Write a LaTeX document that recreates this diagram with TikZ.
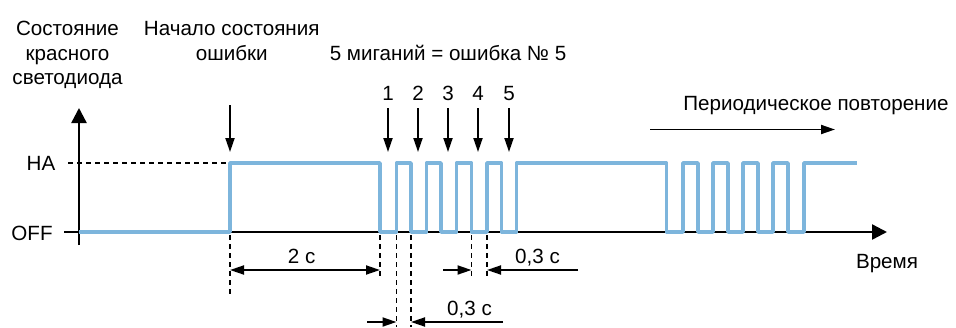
\documentclass[tikz,border=0pt]{standalone}
\usepackage{fontspec}
\setmainfont{Liberation Sans}
\usetikzlibrary{arrows.meta}
\definecolor{sig}{HTML}{7DB5DC}
\begin{document}
\begin{tikzpicture}[x=1pt,y=-1pt,
  txt/.style={inner sep=0pt,anchor=base,font=\fontsize{20.6}{24}\selectfont},
  axis/.style={line width=2.4pt,black},
  bigtip/.style={-{Triangle[length=15pt,width=15pt]}},
  dimtip/.style={-{Triangle[length=14pt,width=9pt]}},
  guide/.style={line width=1.9pt,dash pattern=on 5pt off 4pt},
  marker/.style={line width=1.9pt,dimtip},
  signal/.style={line width=3.6pt,sig,line join=round}]
\useasboundingbox (0,0) rectangle (956,327);
% texts
\node[txt] (t1a) at (67.5,35) {Состояние};
\node[txt] (t1b) at (67.5,60) {красного};
\node[txt] (t1c) at (67.5,84) {светодиода};
\node[txt] (t2a) at (231.7,35) {Начало состояния};
\node[txt] (t2b) at (231.7,60) {ошибки};
\node[txt] (t3) at (448,60) {5 миганий = ошибка № 5};
\node[txt] (per) at (816,110) {Периодическое повторение};
\node[txt] (vr) at (887,268) {Время};
\node[txt] (ha) at (41,170.5) {НА};
\node[txt] (off) at (32,240) {OFF};
\node[txt] (d2) at (301.7,263.3) {2 с};
\node[txt] (d3a) at (537.5,263.3) {0,3 с};
\node[txt] (d3b) at (469.5,315) {0,3 с};
\foreach \n/\x in {1/388,2/418,3/448,4/478,5/509}{
  \node[txt] (n\n) at (\x,100) {\n};
  \coordinate (a\n) at (\x,108);
  \coordinate (b\n) at (\x,152);
  \draw[marker] (a\n) -- (b\n);
}
% axes
\coordinate (o) at (79,232);
\coordinate (ytop) at (79,108);
\coordinate (ybot) at (79,245);
\coordinate (xend) at (887,232);
\coordinate (offt) at (64,232);
\coordinate (hat) at (68,163);
\coordinate (hae) at (230,163);
\draw[axis,bigtip] (ybot) -- (ytop);
\draw[axis,bigtip] (offt) -- (xend);
\draw[guide] (hat) -- (hae);
% start arrow
\coordinate (s0) at (230,105);
\coordinate (s1) at (230,152);
\draw[marker] (s0) -- (s1);
% periodic arrow
\coordinate (p0) at (650,129.5);
\coordinate (p1) at (835,129.5);
\draw[marker] (p0) -- (p1);
% signal
\draw[signal] (79,232) -- (230,232) -- (230,163)
  -- (380,163) -- (380,232) -- (396.5,232) -- (396.5,163)
  -- (411,163) -- (411,232) -- (426.5,232) -- (426.5,163)
  -- (441,163) -- (441,232) -- (456.5,232) -- (456.5,163)
  -- (471.5,163) -- (471.5,232) -- (487,232) -- (487,163)
  -- (501.5,163) -- (501.5,232) -- (516.5,232) -- (516.5,163)
  -- (666.5,163) -- (666.5,232) -- (683,232) -- (683,163)
  -- (698,163) -- (698,232) -- (713,232) -- (713,163)
  -- (728,163) -- (728,232) -- (743,232) -- (743,163)
  -- (758,163) -- (758,232) -- (773,232) -- (773,163)
  -- (788,163) -- (788,232) -- (804,232) -- (804,163)
  -- (857,163);
% guides
\foreach \n/\x/\y in {g0/230/297,g1/380/277,g2/396.5/327,g3/411/327,g4/471.5/277,g5/487/277}{
  \coordinate (\n t) at (\x,235);
  \coordinate (\n b) at (\x,\y);
  \draw[guide] (\n t) -- (\n b);
}
% dimensions
\coordinate (m2) at (305,270);
\coordinate (m2l) at (230,270);
\coordinate (m2r) at (380,270);
\draw[marker] (m2) -- (m2l);
\draw[marker] (m2) -- (m2r);
\coordinate (u0) at (443,270);
\coordinate (u1) at (471.5,270);
\coordinate (u2) at (578,270);
\coordinate (u3) at (487,270);
\draw[marker] (u0) -- (u1);
\draw[marker] (u2) -- (u3);
\coordinate (l0) at (367,322);
\coordinate (l1) at (396.5,322);
\coordinate (l2) at (503,322);
\coordinate (l3) at (411,322);
\draw[marker] (l0) -- (l1);
\draw[marker] (l2) -- (l3);
\end{tikzpicture}
\end{document}
